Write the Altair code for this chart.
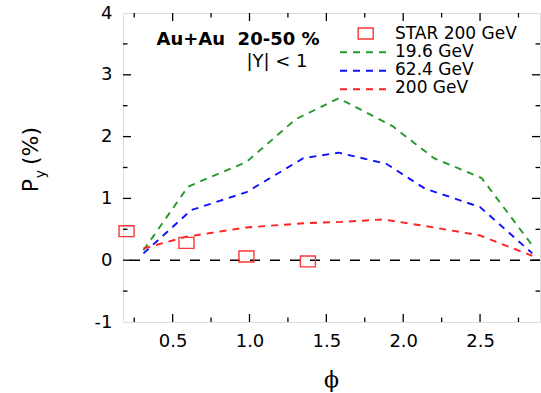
import altair as alt
import pandas as pd

# ---- data ----
phi_196 = [0.31, 0.60, 0.98, 1.30, 1.58, 1.93, 2.20, 2.51, 2.84]
py_196 = [0.16, 1.19, 1.59, 2.28, 2.62, 2.17, 1.65, 1.33, 0.24]
phi_624 = [0.31, 0.62, 0.98, 1.35, 1.58, 1.89, 2.14, 2.50, 2.84]
py_624 = [0.11, 0.81, 1.10, 1.65, 1.74, 1.56, 1.16, 0.86, 0.11]
phi_200 = [0.31, 0.59, 0.98, 1.37, 1.60, 1.87, 2.20, 2.50, 2.84]
py_200 = [0.19, 0.38, 0.53, 0.60, 0.62, 0.66, 0.53, 0.40, 0.07]
star_phi = [0.20, 0.59, 0.98, 1.38]
star_py = [0.47, 0.28, 0.06, -0.02]

series_names = ["19.6 GeV", "62.4 GeV", "200 GeV"]
series_colors = ["#22992a", "#1010ff", "#ff2020"]

x_major = [0.5, 1.0, 1.5, 2.0, 2.5]
x_minor = [0.25, 0.75, 1.25, 1.75, 2.25, 2.75]
y_labels = [-1, 0, 1, 2, 3, 4]
y_major = [0, 1, 2, 3]
y_minor = [-0.5, 0.5, 1.5, 2.5, 3.5]

W, H = 417, 309
FONT = "DejaVu Sans"
STAR_RED = "#ff3535"

lines_df = pd.concat([
    pd.DataFrame({"x": phi_196, "y": py_196, "s": series_names[0]}),
    pd.DataFrame({"x": phi_624, "y": py_624, "s": series_names[1]}),
    pd.DataFrame({"x": phi_200, "y": py_200, "s": series_names[2]}),
], ignore_index=True)
lines_df["o"] = lines_df.index
star_df = pd.DataFrame({"x": star_phi, "y": star_py})

xscale = alt.Scale(domain=[0.177, 2.89], nice=False, zero=False)
yscale = alt.Scale(domain=[-1, 4], nice=False, zero=False)
xaxis = alt.Axis(values=x_major, format=".1f", title=None, ticks=False, domain=False,
                 grid=False, labelPadding=10, labelFont=FONT, labelFontSize=18,
                 labelColor="black", labelOverlap=False, labelFlush=False)
yaxis = alt.Axis(values=y_labels, labelExpr="datum.value + ''", title=None, ticks=False,
                 domain=False, grid=False, labelPadding=11, labelFont=FONT, labelFontSize=18,
                 labelColor="black", labelOverlap=False, labelFlush=False)

def X(f="x"):
    return alt.X(f + ":Q", scale=xscale, axis=xaxis)

def Y(f="y"):
    return alt.Y(f + ":Q", scale=yscale, axis=yaxis)

zero = alt.Chart(pd.DataFrame({"y": [0]})).mark_rule(
    color="black", strokeDash=[10, 10], strokeWidth=1.5).encode(y=Y())

lines = alt.Chart(lines_df).mark_line(strokeDash=[7, 6], strokeWidth=1.9).encode(
    x=X(), y=Y(),
    color=alt.Color("s:N", scale=alt.Scale(domain=series_names, range=series_colors), legend=None),
    order="o:Q",
)

rect_shape = "M-1,-0.73H1V0.73H-1Z"
star = alt.Chart(star_df).mark_point(
    shape=rect_shape, size=225, filled=False, stroke=STAR_RED, strokeWidth=1.4, opacity=1
).encode(x=X(), y=Y())

xmaj = pd.DataFrame({"x": x_major})
xmin = pd.DataFrame({"x": x_minor})
ymaj = pd.DataFrame({"y": y_major})
ymin = pd.DataFrame({"y": y_minor})

def xticks(df, L):
    b = alt.Chart(df).mark_rule(color="black", strokeWidth=1.3).encode(
        x=X(), y=alt.value(H), y2=alt.value(H - L))
    t = alt.Chart(df).mark_rule(color="black", strokeWidth=1.3).encode(
        x=X(), y=alt.value(0), y2=alt.value(L))
    return [b, t]

def yticks(df, L):
    l = alt.Chart(df).mark_rule(color="black", strokeWidth=1.3).encode(
        y=Y(), x=alt.value(0), x2=alt.value(L))
    r = alt.Chart(df).mark_rule(color="black", strokeWidth=1.3).encode(
        y=Y(), x=alt.value(W), x2=alt.value(W - L))
    return [l, r]

ticks = xticks(xmaj, 8) + xticks(xmin, 4.5) + yticks(ymaj, 8) + yticks(ymin, 4.5)

one = pd.DataFrame({"a": [0]})

def label(text, x, y, size=18, weight="normal", align="left", angle=0, font=FONT,
          baseline="alphabetic"):
    return alt.Chart(one).mark_text(
        font=font, fontSize=size, fontWeight=weight, align=align, baseline=baseline,
        angle=angle, color="black"
    ).encode(x=alt.value(x), y=alt.value(y), text=alt.value(text))

texts = [
    label("Au+Au\u00a0\u00a020-50 %", 115, 32, size=18, weight="bold", align="center"),
    label("|Y| < 1", 154, 54, size=18, align="center"),
    label("STAR 200 GeV", 272, 25.5, size=17),
    label(series_names[0], 272, 43.7, size=17),
    label(series_names[1], 272, 62, size=17),
    label(series_names[2], 272, 80.3, size=17),
    label("P", -85, 172.5, size=22, align="center", angle=270),
    label("y", -78, 161, size=14, align="center", angle=270),
    label("(%)", -85, 133, size=22, align="center", angle=270),
    label("\u03d5", 208.5, 374, size=22, align="center", font="DejaVu Serif"),
]

leg_sq = alt.Chart(one).mark_point(
    shape=rect_shape, size=225, filled=False, stroke=STAR_RED, strokeWidth=1.4, opacity=1
).encode(x=alt.value(242.7), y=alt.value(20.5))

leg_lines = [
    alt.Chart(one).mark_rule(color=c, strokeDash=[7, 6], strokeWidth=1.9).encode(
        x=alt.value(217), x2=alt.value(265), y=alt.value(yy))
    for c, yy in zip(series_colors, [39.3, 57.7, 76.3])
]

chart = alt.layer(zero, lines, star, *ticks, leg_sq, *leg_lines, *texts).properties(
    width=W, height=H,
    padding={"left": 123, "top": 13, "right": 1, "bottom": 71},
    autosize=alt.AutoSizeParams(type="none"),
).configure_view(stroke="black", strokeWidth=1.5).configure(background="white")

chart.save("out.html", embed_options={"renderer": "svg", "actions": False})
